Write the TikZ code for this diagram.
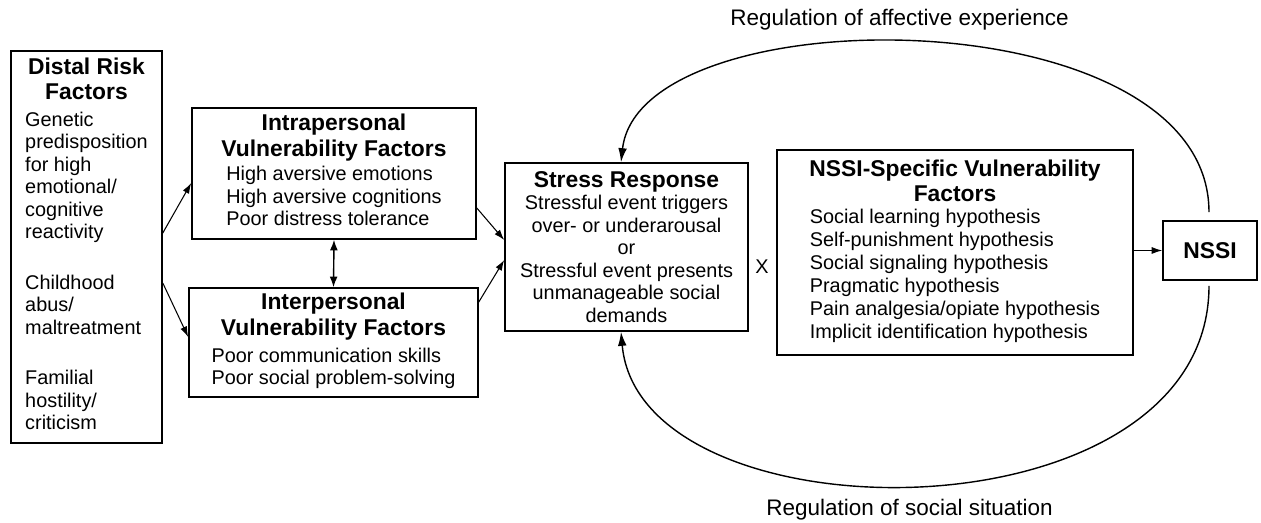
\documentclass[tikz,border=0pt]{standalone}
\usepackage{fontspec}
\setmainfont{Liberation Sans}
\usetikzlibrary{arrows.meta, calc}

\newcommand{\pxl}{0.02cm}
\newcommand{\bodyfont}{\fontsize{11.3}{12.8}\selectfont}
\newcommand{\headfont}{\fontsize{13}{14.7}\selectfont\bfseries}

\tikzset{
    factorbox/.style={draw, line width=0.9pt, inner sep=0pt, align=center, font=\bodyfont},
    conn/.style={line width=0.6pt, -{Latex[length=6pt,width=4pt]}},
    loop/.style={line width=0.8pt, -{Latex[length=8pt,width=5pt]}},
    looplabel/.style={font=\fontsize{12.8}{14}\selectfont}
}

\begin{document}
\begin{tikzpicture}[x=\pxl, y=-\pxl]
        \useasboundingbox (0,0) rectangle (1261,523);

        % boxes
        \node[factorbox, minimum width=151*\pxl, minimum height=392*\pxl] (distal) at (86.5,247)
            {{\headfont Distal Risk}\\[1.5pt]{\headfont Factors}\\[2.5pt]
             \begin{tabular}[t]{@{}l@{}}Genetic\\predisposition\\for high\\emotional/\\cognitive\\reactivity\\[16pt]
             Childhood\\abus/\\maltreatment\\[16pt]Familial\\hostility/\\criticism\end{tabular}};
        \node[factorbox, minimum width=284*\pxl, minimum height=131*\pxl] (intra) at (334,173.5)
            {{\headfont Intrapersonal}\\[1.7pt]{\headfont Vulnerability Factors}\\[1.2pt]
             \begin{tabular}[t]{@{}l@{}}High aversive emotions\\High aversive cognitions\\Poor distress tolerance\end{tabular}};
        \node[factorbox, minimum width=289*\pxl, minimum height=109*\pxl] (inter) at (333.5,342.5)
            {{\headfont Interpersonal}\\[1.7pt]{\headfont Vulnerability Factors}\\[2.5pt]
             \begin{tabular}[t]{@{}l@{}}Poor communication skills\\Poor social problem-solving\end{tabular}};
        \node[factorbox, minimum width=243*\pxl, minimum height=168*\pxl] (stress) at (626.5,247)
            {{\headfont Stress Response}\\Stressful event triggers\\over- or underarousal\\or\\Stressful event presents\\unmanageable social\\demands};
        \node[factorbox, minimum width=356*\pxl, minimum height=205*\pxl] (nssispec) at (955,252.5)
            {{\headfont NSSI-Specific Vulnerability}\\[1.7pt]{\headfont Factors}\\
             \renewcommand{\arraystretch}{1.02}%
             \begin{tabular}[t]{@{}l@{}}Social learning hypothesis\\Self-punishment hypothesis\\Social signaling hypothesis\\Pragmatic hypothesis\\Pain analgesia/opiate hypothesis\\Implicit identification hypothesis\end{tabular}};
        \node[factorbox, minimum width=94*\pxl, minimum height=59*\pxl] (nssi) at (1210,250.5) {\headfont NSSI};

        \node[font=\bodyfont] (times) at (762,267) {X};
        \node[looplabel] (affect) at (899.5,20) {Regulation of affective experience};
        \node[looplabel] (social) at (909.5,510) {Regulation of social situation};

        % arrows
        \draw[conn] ([yshift=0.28cm]distal.east) -- ([yshift=-0.19cm]intra.west);
        \draw[conn] ([yshift=-0.72cm]distal.east) -- ([yshift=0.11cm]inter.west);
        \draw[conn, line width=0.8pt, {Latex[length=6pt,width=4.5pt]}-{Latex[length=6pt,width=4.5pt]}] (intra.south) -- (inter.north);
        \draw[conn] ([yshift=-0.69cm]intra.east) -- ([yshift=0.14cm]stress.west);
        \draw[conn] ([yshift=0.81cm]inter.east) -- ([yshift=-0.26cm]stress.west);
        \draw[conn] (nssispec.east |- nssi.west) -- (nssi.west);

        % feedback loops
        \coordinate (loopup) at ($(nssi.north)+(-1,-8)$);
        \coordinate (loopdown) at ($(nssi.south)+(-1,5)$);
        \draw[loop] (loopup) .. controls (1209,-5) and (640,-6) .. ([xshift=-0.11cm]stress.north);
        \draw[loop] (loopdown) .. controls (1209,544) and (640,544) .. ([xshift=-0.11cm]stress.south);
    \end{tikzpicture}
\end{document}
